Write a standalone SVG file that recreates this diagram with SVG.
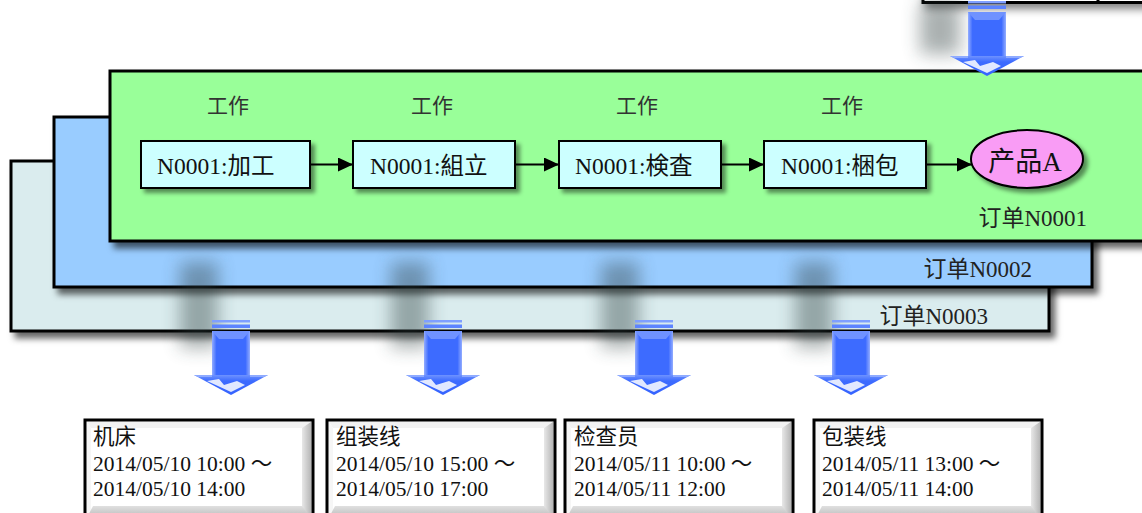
<svg xmlns="http://www.w3.org/2000/svg" xmlns:xlink="http://www.w3.org/1999/xlink" width="1142" height="513" viewBox="0 0 1142 513">
<style>
text{font-family:"Liberation Serif","Noto Sans CJK SC",serif;fill:#111}
.panel{stroke:#000;stroke-width:3}
.node{fill:#ccffff;stroke:#000;stroke-width:2}
.lbl{font-size:23.5px}
.work{font-size:21px;fill:#333;text-anchor:middle}
.ord{font-size:23px;text-anchor:end;fill:#222}
.res{font-size:21.5px;fill:#111}
.conn{stroke:#000;stroke-width:2;fill:none}
.frame{fill:none;stroke:#000;stroke-width:3}
</style>
<defs>
<filter id="pshadow" x="-5%" y="-10%" width="115%" height="135%">
<feDropShadow dx="5" dy="6" stdDeviation="3" flood-color="#000" flood-opacity="0.6"/>
</filter>
<filter id="nshadow" x="-10%" y="-20%" width="130%" height="150%">
<feDropShadow dx="4" dy="4" stdDeviation="2" flood-color="#000" flood-opacity="0.45"/>
</filter>
<filter id="tshadow" x="-10%" y="-20%" width="130%" height="200%">
<feDropShadow dx="3" dy="5" stdDeviation="4" flood-color="#000" flood-opacity="0.5"/>
</filter>
<filter id="smudge" x="-100%" y="-50%" width="300%" height="200%">
<feGaussianBlur stdDeviation="9"/>
</filter>
<linearGradient id="shaftGrad" x1="0" y1="0" x2="1" y2="0">
<stop offset="0" stop-color="#93adff"/>
<stop offset="0.12" stop-color="#3d6bff"/>
<stop offset="0.88" stop-color="#3d6bff"/>
<stop offset="1" stop-color="#93adff"/>
</linearGradient>
<linearGradient id="headGrad" x1="0" y1="0" x2="0" y2="1">
<stop offset="0" stop-color="#6e92ff"/>
<stop offset="0.3" stop-color="#3d6bff"/>
<stop offset="1" stop-color="#3563ff"/>
</linearGradient>
<linearGradient id="bevR" x1="0" y1="0" x2="1" y2="0">
<stop offset="0" stop-color="#e8e8e8"/>
<stop offset="1" stop-color="#b4b4b4"/>
</linearGradient>
<linearGradient id="bevB" x1="0" y1="0" x2="0" y2="1">
<stop offset="0" stop-color="#e0e0e0"/>
<stop offset="1" stop-color="#b8b8b8"/>
</linearGradient>
<marker id="tri" markerUnits="userSpaceOnUse" markerWidth="16" markerHeight="14" refX="15" refY="7" orient="auto">
<path d="M0,0 L15,7 L0,14 z" fill="#000"/>
</marker>
<g id="bigArrow">
<rect x="-19" y="1" width="38" height="2.5" fill="#7f9fff"/>
<rect x="-19" y="5.5" width="38" height="3.5" fill="#5d84ff"/>
<rect x="-19" y="12" width="38" height="45" fill="url(#shaftGrad)"/>
<polygon points="-19,12 19,12 12,20 -12,20" fill="#6f92ff"/>
<polygon points="-37,56 37,56 0,76" fill="url(#headGrad)"/>
<polygon points="-37,56 -19,56 -19,58 -33,58" fill="#8fabff"/>
<polygon points="37,56 19,56 19,58 33,58" fill="#8fabff"/>
<polygon points="-24,62 -12,60 -7,66 6,62 14,66 0,73" fill="#ffffff" opacity="0.85"/>
</g>
<g id="btnBevel">
<polygon points="1.5,1.5 226.5,1.5 217,8 6,8" fill="#f2f2f2"/>
<polygon points="1.5,1.5 6,8 6,92 1.5,98.5" fill="#f6f6f6"/>
<polygon points="226.5,1.5 226.5,98.5 217,88 217,8" fill="url(#bevR)"/>
<polygon points="1.5,98.5 226.5,98.5 217,86 8,86" fill="url(#bevB)"/>
</g>
</defs>

<rect x="0" y="0" width="1142" height="513" fill="#ffffff"/>

<!-- top box (cut off) -->
<g id="top-box" filter="url(#tshadow)">
<rect x="923" y="-40" width="240" height="42.5" fill="#ffffff" stroke="#000" stroke-width="3"/>
<line x1="1098" y1="-40" x2="1098" y2="3" stroke="#000" stroke-width="3"/>
</g>

<!-- order panels -->
<g id="order-N0003">
<rect class="panel" x="11" y="161" width="1038" height="170" fill="#daecee" filter="url(#pshadow)"/>
<text class="ord" x="988" y="324">订单N0003</text>
</g>
<g id="order-N0002">
<rect class="panel" x="54" y="117" width="1038" height="170" fill="#99ccff" filter="url(#pshadow)"/>
<text class="ord" x="1032" y="277">订单N0002</text>
</g>

<!-- arrow shadows on panels -->
<g id="arrow-shadows" fill="#2a3a3a" opacity="0.4" filter="url(#smudge)">
<rect x="180" y="262" width="38" height="86"/>
<rect x="391" y="262" width="38" height="86"/>
<rect x="601" y="262" width="38" height="86"/>
<rect x="795" y="262" width="38" height="86"/>
<rect x="920" y="2" width="40" height="52"/>
</g>

<g id="order-N0001">
<rect class="panel" x="110" y="71" width="1060" height="170" fill="#99ff99" filter="url(#pshadow)"/>
<text class="ord" x="1087" y="226">订单N0001</text>
</g>

<!-- work labels -->
<g id="work-labels">
<text class="work" x="228" y="113">工作</text>
<text class="work" x="432" y="113">工作</text>
<text class="work" x="637" y="113">工作</text>
<text class="work" x="842" y="113">工作</text>
</g>

<!-- connectors -->
<g id="connectors">
<line class="conn" x1="310" y1="164.5" x2="353" y2="164.5" marker-end="url(#tri)"/>
<line class="conn" x1="515" y1="164.5" x2="559" y2="164.5" marker-end="url(#tri)"/>
<line class="conn" x1="721" y1="164.5" x2="764" y2="164.5" marker-end="url(#tri)"/>
<line class="conn" x1="926" y1="164.5" x2="972" y2="164.5" marker-end="url(#tri)"/>
</g>

<!-- process nodes -->
<g id="node-kakou">
<rect class="node" x="141" y="141" width="169" height="47" filter="url(#nshadow)"/>
<text class="lbl" x="157" y="174">N0001:加工</text>
</g>
<g id="node-kumitate">
<rect class="node" x="353" y="141" width="162" height="47" filter="url(#nshadow)"/>
<text class="lbl" x="370" y="174">N0001:組立</text>
</g>
<g id="node-kensa">
<rect class="node" x="559" y="141" width="162" height="47" filter="url(#nshadow)"/>
<text class="lbl" x="575" y="174">N0001:検査</text>
</g>
<g id="node-konpou">
<rect class="node" x="764" y="141" width="162" height="47" filter="url(#nshadow)"/>
<text class="lbl" x="781" y="174">N0001:梱包</text>
</g>
<g id="node-productA">
<ellipse cx="1027" cy="159" rx="56" ry="29" fill="#f99cf5" stroke="#000" stroke-width="2" filter="url(#nshadow)"/>
<text x="1025" y="171" font-size="27" text-anchor="middle">产品A</text>
</g>

<!-- big arrows -->
<g id="arrow-top"><use xlink:href="#bigArrow" href="#bigArrow" transform="translate(987,0)"/></g>
<g id="arrow-1"><use xlink:href="#bigArrow" href="#bigArrow" transform="translate(231,319)"/></g>
<g id="arrow-2"><use xlink:href="#bigArrow" href="#bigArrow" transform="translate(443,319)"/></g>
<g id="arrow-3"><use xlink:href="#bigArrow" href="#bigArrow" transform="translate(654,319)"/></g>
<g id="arrow-4"><use xlink:href="#bigArrow" href="#bigArrow" transform="translate(851,319)"/></g>

<!-- resource boxes -->
<g id="res-kisho">
<rect x="85" y="420" width="228" height="100" fill="#ffffff"/>
<use xlink:href="#btnBevel" href="#btnBevel" transform="translate(85,420)"/>
<rect class="frame" x="85" y="420" width="228" height="100"/>
<text class="res" x="93" y="444">机床</text>
<text class="res" x="93" y="471">2014/05/10 10:00 ～</text>
<text class="res" x="93" y="496">2014/05/10 14:00</text>
</g>
<g id="res-assembly">
<rect x="327" y="420" width="228" height="100" fill="#ffffff"/>
<use xlink:href="#btnBevel" href="#btnBevel" transform="translate(327,420)"/>
<rect class="frame" x="327" y="420" width="228" height="100"/>
<text class="res" x="336" y="444">组装线</text>
<text class="res" x="336" y="471">2014/05/10 15:00 ～</text>
<text class="res" x="336" y="496">2014/05/10 17:00</text>
</g>
<g id="res-inspector">
<rect x="565" y="420" width="228" height="100" fill="#ffffff"/>
<use xlink:href="#btnBevel" href="#btnBevel" transform="translate(565,420)"/>
<rect class="frame" x="565" y="420" width="228" height="100"/>
<text class="res" x="574" y="444">检查员</text>
<text class="res" x="574" y="471">2014/05/11 10:00 ～</text>
<text class="res" x="574" y="496">2014/05/11 12:00</text>
</g>
<g id="res-packing">
<rect x="814" y="420" width="228" height="100" fill="#ffffff"/>
<use xlink:href="#btnBevel" href="#btnBevel" transform="translate(814,420)"/>
<rect class="frame" x="814" y="420" width="228" height="100"/>
<text class="res" x="822" y="444">包装线</text>
<text class="res" x="822" y="471">2014/05/11 13:00 ～</text>
<text class="res" x="822" y="496">2014/05/11 14:00</text>
</g>
</svg>
